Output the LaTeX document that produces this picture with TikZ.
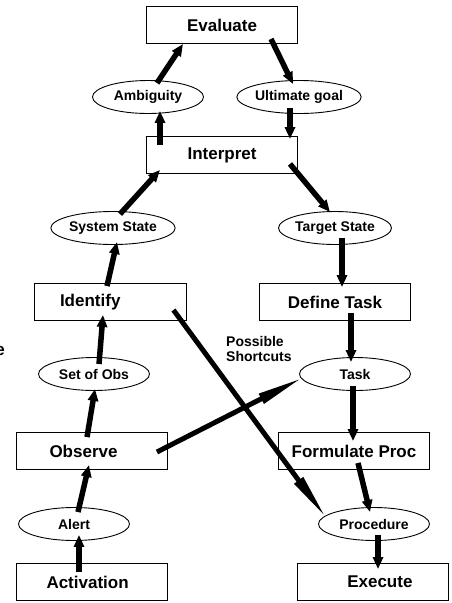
\documentclass[tikz,border=0pt]{standalone}
\usepackage{fontspec}
\setmainfont{Liberation Sans}
\usetikzlibrary{arrows.meta,shapes}
\tikzset{
    stage/.style={
    rectangle,draw=black,line width=0.9pt,minimum width=151pt,minimum height=37pt,inner sep=2pt,
    font=\fontsize{17}{20}\selectfont\bfseries
    },
    info/.style={
    ellipse,draw=black,line width=0.9pt,minimum width=111pt,minimum height=33pt,inner sep=0pt,
    font=\fontsize{14}{16}\selectfont\bfseries
    },
    flow/.style={
    line width=5.5pt,-{Triangle[length=12pt,width=10pt]}
    },
    shortcut/.style={
    line width=5pt,-{Triangle[length=48pt,width=10pt]}
    },
}
\begin{document}
\begin{tikzpicture}[x=1pt,y=-1pt]
  \useasboundingbox (0,0) rectangle (451,603);
  % left column
  \node[stage] (eval) at (222,25) {Evaluate};
  \node[info] (amb) at (148,97) {Ambiguity};
  \node[info] (ult) at (299,97) {Ultimate goal};
  \node[stage] (interp) at (222,155) {Interpret};
  \node[info] (sys) at (113,228) {System State};
  \node[info] (targ) at (335,228) {Target State};
  \node[stage,inner xsep=26pt,text width=100pt,align=left] (ident) at (110,302) {Identify};
  \node[stage] (deftask) at (335,302) {Define Task};
  \node[info] (setobs) at (94,374) {Set of Obs};
  \node[info] (tsk) at (355,374) {Task};
  \node[stage,inner xsep=33pt,text width=85pt,align=left] (obs) at (92,451) {Observe};
  \node[stage] (formproc) at (354,451) {Formulate Proc};
  \node[info] (alert) at (74,524) {Alert};
  \node[info] (proc) at (374,524) {Procedure};
  \node[stage,inner xsep=30pt,text width=91pt,align=left] (activ) at (92,582) {Activation};
  \node[stage,inner xsep=36pt,text width=79pt,align=right] (exec) at (373,582) {Execute};
  \node[anchor=west,align=left,inner sep=0pt,font=\fontsize{14}{15}\selectfont\bfseries] (short) at (226,349) {Possible\\Shortcuts};
  \node[anchor=base east,inner sep=0pt,font=\fontsize{17}{20}\selectfont\bfseries] (cut) at (5,355) {e};

  \path[flow]
    ([shift={(9,3)}]amb.north) edge ([shift={(-39,0)}]eval.south)
    ([shift={(49,-5)}]eval.south) edge ([shift={(-6,4)}]ult.north)
    ([shift={(-62,9)}]interp.north) edge ([shift={(12,-3)}]amb.south)
    ([shift={(-9,-6)}]ult.south) edge ([shift={(68,3)}]interp.north)
    ([shift={(7,3)}]sys.north) edge ([shift={(-62,-4)}]interp.south)
    ([shift={(68,-10)}]interp.south) edge ([shift={(-5,1)}]targ.north)
    ([shift={(-3,3)}]ident.north) edge ([shift={(4,-3)}]sys.south)
    ([shift={(7,-7)}]targ.south) edge ([shift={(7,4)}]deftask.north)
    ([shift={(5,7)}]setobs.north) edge ([shift={(-7,-6)}]ident.south)
    ([shift={(16,-8)}]deftask.south) edge ([shift={(-4,5)}]tsk.north)
    ([shift={(-5,5)}]obs.north) edge ([shift={(1,-2)}]setobs.south)
    ([shift={(-2,-5)}]tsk.south) edge ([shift={(-1,9)}]formproc.north)
    ([shift={(4,5)}]alert.north) edge ([shift={(-3,-5)}]obs.south)
    ([shift={(4,-7)}]formproc.south) edge ([shift={(-4,5)}]proc.north)
    ([shift={(-13,9)}]activ.north) edge ([shift={(5,-6)}]alert.south)
    ([shift={(4,-6)}]proc.south) edge ([shift={(5,6)}]exec.north);
  \path[shortcut]
    ([shift={(-13,8)}]ident.east) edge ([shift={(9,-5)}]proc.west)
    ([shift={(-11,1)}]obs.east) edge ([shift={(5,3)}]tsk.west);
\end{tikzpicture}
\end{document}
